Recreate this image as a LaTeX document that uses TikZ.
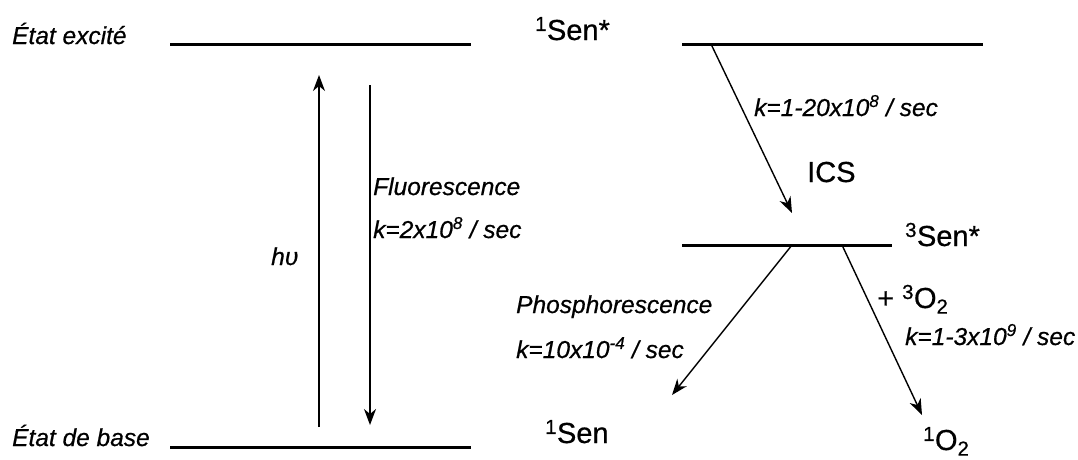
\documentclass[tikz,border=0pt]{standalone}
\usepackage{fontspec}
\setmainfont{Liberation Sans}
\newfontfamily\labfont{Liberation Sans}[FakeBold=0.6]
\usetikzlibrary{arrows.meta}
\tikzset{
  level/.style={line width=3pt},
  trans/.style={line width=1.4pt,-{Stealth[length=16pt,width=12pt,inset=5pt]}},
  lab/.style={anchor=base west,inner sep=0pt,font=\labfont\fontsize{24.5}{28}\selectfont\itshape},
  big/.style={anchor=base west,inner sep=0pt,font=\labfont\fontsize{29}{34}\selectfont},
}
\begin{document}
\begin{tikzpicture}[x=1pt,y=-1pt]
\useasboundingbox (0,0) rectangle (1078,459);
% levels
\coordinate (tlA) at (170,44);  \coordinate (tlB) at (471,44);
\coordinate (blA) at (170,447); \coordinate (blB) at (471,447);
\coordinate (trA) at (682,44);  \coordinate (trB) at (983,44);
\coordinate (mrA) at (682,245); \coordinate (mrB) at (892,245);
\draw[level] (tlA) -- (tlB);
\draw[level] (blA) -- (blB);
\draw[level] (trA) -- (trB);
\draw[level] (mrA) -- (mrB);
% arrow end points
\coordinate (hvS) at (319,427); \coordinate (hvE) at (319,75);
\coordinate (flS) at (370,85);  \coordinate (flE) at (370,425);
\coordinate (icS) at (711,44);  \coordinate (icE) at (792,213);
\coordinate (phS) at (792,245); \coordinate (phE) at (672,395);
\coordinate (oxS) at (842,245); \coordinate (oxE) at (922,415);
\draw[trans] (hvS) -- (hvE);
\draw[trans] (flS) -- (flE);
\draw[trans] (icS) -- (icE);
\draw[trans] (phS) -- (phE);
\draw[trans] (oxS) -- (oxE);
% labels
\node[lab] (ex) at (12,44) {État excité};
\node[lab] (gs) at (12,446) {État de base};
\node[lab] (hv) at (271,265) {hυ};
\node[lab] (fl) at (373,195) {Fluorescence};
\node[lab] (kf) at (373,238) {k=2x10\textsuperscript{8} / sec};
\node[big] (s1x) at (535,40) {\textsuperscript{1}Sen*};
\node[lab] (kic) at (754,116) {k=1-20x10\textsuperscript{8} / sec};
\node[big] (ics) at (807,182) {ICS};
\node[big] (s3x) at (905,246) {\textsuperscript{3}Sen*};
\node[lab] (ph) at (516,313) {Phosphorescence};
\node[lab] (kph) at (516,358) {k=10x10\textsuperscript{-4} / sec};
\node[big] (ox) at (877,308) {+ \textsuperscript{3}O\textsubscript{2}};
\node[lab] (kox) at (905,345) {k=1-3x10\textsuperscript{9} / sec};
\node[big] (s1) at (545,443) {\textsuperscript{1}Sen};
\node[big] (o1) at (923,450) {\textsuperscript{1}O\textsubscript{2}};
\end{tikzpicture}
\end{document}
